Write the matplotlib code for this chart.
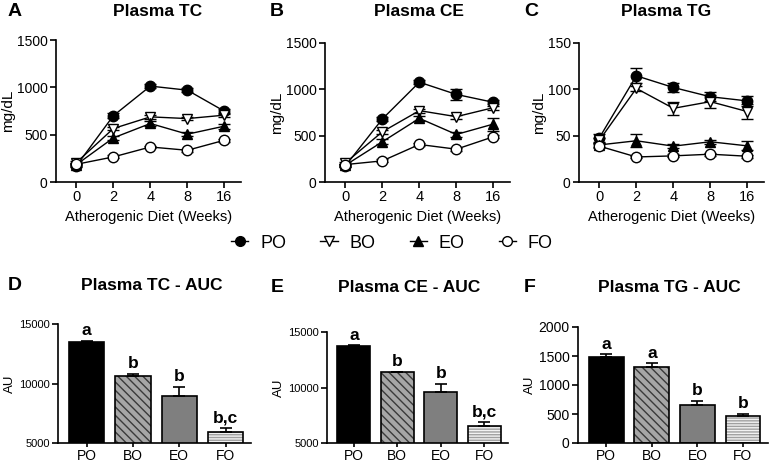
import numpy as np
import matplotlib
matplotlib.use("Agg")
import matplotlib.pyplot as plt
from matplotlib.lines import Line2D

plt.rcParams['font.family'] = ['Liberation Sans', 'DejaVu Sans']

W, H = 777, 463

weeks = ['0', '2', '4', '8', '16']
groups = ['PO', 'BO', 'EO', 'FO']

# time course, mg/dL (mean, sem)
tc_mean = {'PO': [170, 700, 1013, 970, 748], 'BO': [205, 565, 688, 670, 706],
           'EO': [183, 466, 618, 505, 590], 'FO': [187, 265, 370, 335, 441]}
tc_err = {'PO': [15, 25, 20, 20, 20], 'BO': [15, 20, 20, 15, 15],
          'EO': [15, 20, 25, 20, 25], 'FO': [10, 15, 15, 15, 15]}
ce_mean = {'PO': [173, 680, 1077, 945, 860], 'BO': [206, 542, 770, 705, 802],
           'EO': [181, 434, 687, 513, 625], 'FO': [188, 228, 405, 354, 488]}
ce_err = {'PO': [15, 20, 20, 60, 20], 'BO': [15, 20, 20, 20, 20],
          'EO': [15, 25, 25, 25, 70], 'FO': [10, 15, 15, 15, 15]}
tg_mean = {'PO': [47.7, 114.6, 102, 92, 87.5], 'BO': [45, 101, 79.5, 86.7, 76],
           'EO': [40, 44.5, 38.7, 43.4, 39], 'FO': [38.7, 27, 28.2, 30, 27.8]}
tg_err = {'PO': [4, 8, 5, 5, 5], 'BO': [3, 3, 7, 7, 8],
          'EO': [2, 7, 2, 2, 5], 'FO': [2, 1.5, 1.5, 1.5, 1.5]}

# AUC bars
tc_auc = [13450, 10650, 8990, 5910]
tc_auc_err = [120, 130, 700, 330]
ce_auc = [13735, 11380, 9560, 6530]
ce_auc_err = [50, 30, 800, 320]
tg_auc = [1484, 1314, 663, 470]
tg_auc_err = [45, 57, 57, 28]
tc_letters = ['a', 'b', 'b', 'b,c']
ce_letters = ['a', 'b', 'b', 'b,c']
tg_letters = ['a', 'a', 'b', 'b']

markers = {'PO': ('o', 'black'), 'BO': ('v', 'white'),
           'EO': ('^', 'black'), 'FO': ('o', 'white')}


def px_axes(left, right, top, bottom):
    return fig.add_axes([left / W, 1 - bottom / H, (right - left) / W, (bottom - top) / H])


def style(ax):
    for s in ('top', 'right'):
        ax.spines[s].set_visible(False)
    for s in ('left', 'bottom'):
        ax.spines[s].set_linewidth(1.2)
    ax.tick_params(direction='out', length=4, width=1.2, pad=2)


fig = plt.figure(figsize=(W / 100, H / 100), dpi=100)

line_panels = [
    (56, 241, 40, 182, tc_mean, tc_err, (0, 1500), [0, 500, 1000, 1500]),
    (325, 510, 43, 182, ce_mean, ce_err, (0, 1500), [0, 500, 1000, 1500]),
    (579, 764, 43, 182, tg_mean, tg_err, (0, 150), [0, 50, 100, 150]),
]
x = np.arange(len(weeks))
for left, right, top, bottom, means, errs, ylim, yt in line_panels:
    ax = px_axes(left, right, top, bottom)
    for g in groups:
        m, fc = markers[g]
        ax.errorbar(x, means[g], yerr=errs[g], color='black', lw=1.0,
                    marker=m, markersize=7.5, markerfacecolor=fc,
                    markeredgecolor='black', markeredgewidth=1.0,
                    capsize=4, elinewidth=1.0, capthick=1.0, clip_on=False)
    ax.set_xlim(-0.55, 4.45)
    ax.set_ylim(*ylim)
    ax.set_yticks(yt)
    ax.set_xticks(x)
    ax.set_xticklabels(weeks, fontsize=10.5)
    ax.tick_params(axis='y', labelsize=10)
    ax.set_ylabel('mg/dL', fontsize=11, labelpad=1)
    ax.set_xlabel('Atherogenic Diet (Weeks)', fontsize=10.5, labelpad=4)
    style(ax)

bar_panels = [
    (58, 251, 324, 443, tc_auc, tc_auc_err, tc_letters, (5000, 15000), [5000, 10000, 15000], 8),
    (327, 508, 332, 443, ce_auc, ce_auc_err, ce_letters, (5000, 15000), [5000, 10000, 15000], 8),
    (578, 768, 327, 443, tg_auc, tg_auc_err, tg_letters, (0, 2000), [0, 500, 1000, 1500, 2000], 10),
]
faces = ['black', '#a6a6a6', '#7f7f7f', '#f2f2f2']
hatch_cols = ['black', '#3a3a3a', '#7f7f7f', '#a0a0a0']
hatches = [None, '\\\\\\\\', None, '------']
xb = np.arange(len(groups))
for left, right, top, bottom, vals, errs, letters, ylim, yt, ysz in bar_panels:
    ax = px_axes(left, right, top, bottom)
    bars = ax.bar(xb, vals, 0.76, color=faces, edgecolor=hatch_cols, linewidth=0)
    for b, h in zip(bars, hatches):
        if h:
            b.set_hatch(h)
    ax.bar(xb, vals, 0.76, fill=False, edgecolor='black', linewidth=1.2)
    ax.errorbar(xb, vals, yerr=[np.zeros(len(vals)), errs], fmt='none',
                ecolor='black', elinewidth=1.2, capsize=4.5, capthick=1.2)
    for xi, v, e, t in zip(xb, vals, errs, letters):
        ax.annotate(t, (xi, v + e), xytext=(0, 2), textcoords='offset points',
                    ha='center', va='bottom', fontsize=12.5, fontweight='bold')
    ax.set_xlim(-0.62, 3.55)
    ax.set_ylim(*ylim)
    ax.set_yticks(yt)
    ax.set_xticks(xb)
    ax.set_xticklabels(groups, fontsize=10)
    ax.tick_params(axis='y', labelsize=ysz)
    ax.set_ylabel('AU', fontsize=9.5, labelpad=2)
    style(ax)
    ax.tick_params(axis='x', length=3, pad=1)

titles = [('A', 15, 12, 'Plasma TC', 158), ('B', 277, 12, 'Plasma CE', 419),
          ('C', 531, 12, 'Plasma TG', 666), ('D', 15, 286, 'Plasma TC - AUC', 152),
          ('E', 277, 287, 'Plasma CE - AUC', 409), ('F', 530, 287, 'Plasma TG - AUC', 669)]
for letter, lx, ly, title, tx in titles:
    fig.text(lx / W, 1 - ly / H, letter, fontsize=14, fontweight='bold', ha='center', va='center')
    fig.text(tx / W, 1 - ly / H, title, fontsize=12.5, fontweight='bold', ha='center', va='center')

handles = [Line2D([], [], color='black', lw=1.0, marker=markers[g][0], markersize=7,
                  markerfacecolor=markers[g][1], markeredgecolor='black') for g in groups]
fig.legend(handles, groups, loc='center', bbox_to_anchor=(392 / W, 1 - 243 / H), ncol=4,
           frameon=False, fontsize=13, handlelength=0.95, handletextpad=0.65,
           columnspacing=1.9)

fig.savefig('out.png', dpi=100)
